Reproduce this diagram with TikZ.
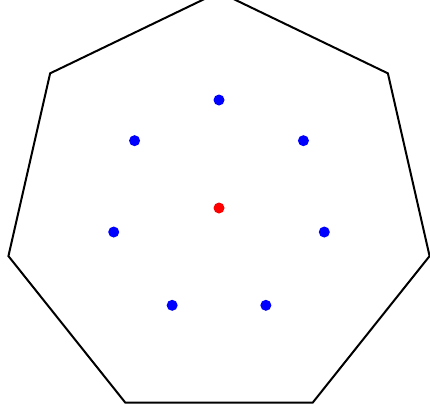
\documentclass[tikz,border=0pt]{standalone}
\begin{document}
\begin{tikzpicture}[x=1pt,y=-1pt,
  bluedot/.style={circle,fill=blue,inner sep=0pt,minimum size=11pt},
  reddot/.style={circle,fill=red,inner sep=0pt,minimum size=11pt},
  edge/.style={draw=black,line width=2pt,line join=miter}]
\useasboundingbox (0,0) rectangle (430,416);
\begin{scope}
\clip (0,0) rectangle (430,416);
\foreach \k in {0,...,6} {
  \coordinate (v\k) at ({219+216*sin(\k*360/7)},{208-216*cos(\k*360/7)});
}
\draw[edge] (v0) -- (v1) -- (v2) -- (v3) -- (v4) -- (v5) -- (v6) -- cycle;
\end{scope}
\node[reddot] (center) at (219,208) {};
\foreach \k in {0,...,6} {
  \node[bluedot] (p\k) at ({219+108*sin(\k*360/7)},{208-108*cos(\k*360/7)}) {};
}
\end{tikzpicture}
\end{document}
